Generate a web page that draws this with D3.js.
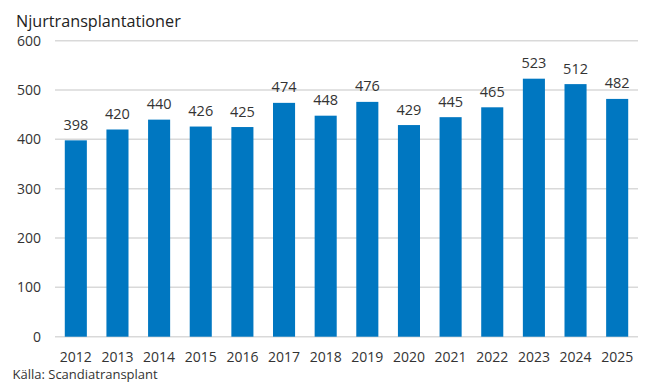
<!DOCTYPE html>
<html><head><meta charset="utf-8">
<script src="https://cdn.jsdelivr.net/npm/d3@7"></script>
<style>body{margin:0;background:#fff}svg{display:block;font-family:"Open Sans",sans-serif}</style>
</head><body>
<svg id="c" width="650" height="391"></svg>
<script>
const years = ["2012","2013","2014","2015","2016","2017","2018","2019","2020","2021","2022","2023","2024","2025"];
const values = [398,420,440,426,425,474,448,476,429,445,465,523,512,482];
const yTicks = [0,100,200,300,400,500,600];
const title = "Njurtransplantationer";
const source = "Källa: Scandiatransplant";

const svg = d3.select("#c");
const x = d3.scaleBand().domain(years).range([55,638]).paddingInner(0.47).paddingOuter(0.235);
const y = d3.scaleLinear().domain([0,600]).range([336.7,40.7]);

svg.append("g").selectAll("line").data(yTicks).join("line")
  .attr("x1",55).attr("x2",638).attr("y1",d=>y(d)).attr("y2",d=>y(d))
  .attr("stroke","#d9d9d9").attr("stroke-width",1.5);

svg.append("g").selectAll("text").data(yTicks).join("text")
  .attr("x",41).attr("y",d=>y(d)+5).attr("text-anchor","end")
  .attr("font-size",14).attr("fill","#333").text(d=>d);

svg.append("g").selectAll("rect").data(values).join("rect")
  .attr("x",(d,i)=>x(years[i])).attr("width",x.bandwidth())
  .attr("y",d=>y(d)).attr("height",d=>y(0)-y(d)).attr("fill","#0077c1");

svg.append("g").selectAll("text").data(values).join("text")
  .attr("x",(d,i)=>x(years[i])+x.bandwidth()/2).attr("y",d=>y(d)-10.5)
  .attr("text-anchor","middle").attr("font-size",14.5).attr("fill","#333").text(d=>d);

svg.append("g").selectAll("text").data(years).join("text")
  .attr("x",d=>x(d)+x.bandwidth()/2).attr("y",362)
  .attr("text-anchor","middle").attr("font-size",14).attr("fill","#333").text(d=>d);

svg.append("text").attr("x",16).attr("y",27).attr("font-size",16.2).attr("fill","#222").text(title);
svg.append("text").attr("x",12.5).attr("y",379).attr("font-size",13).attr("fill","#333").text(source);
</script>
</body></html>
